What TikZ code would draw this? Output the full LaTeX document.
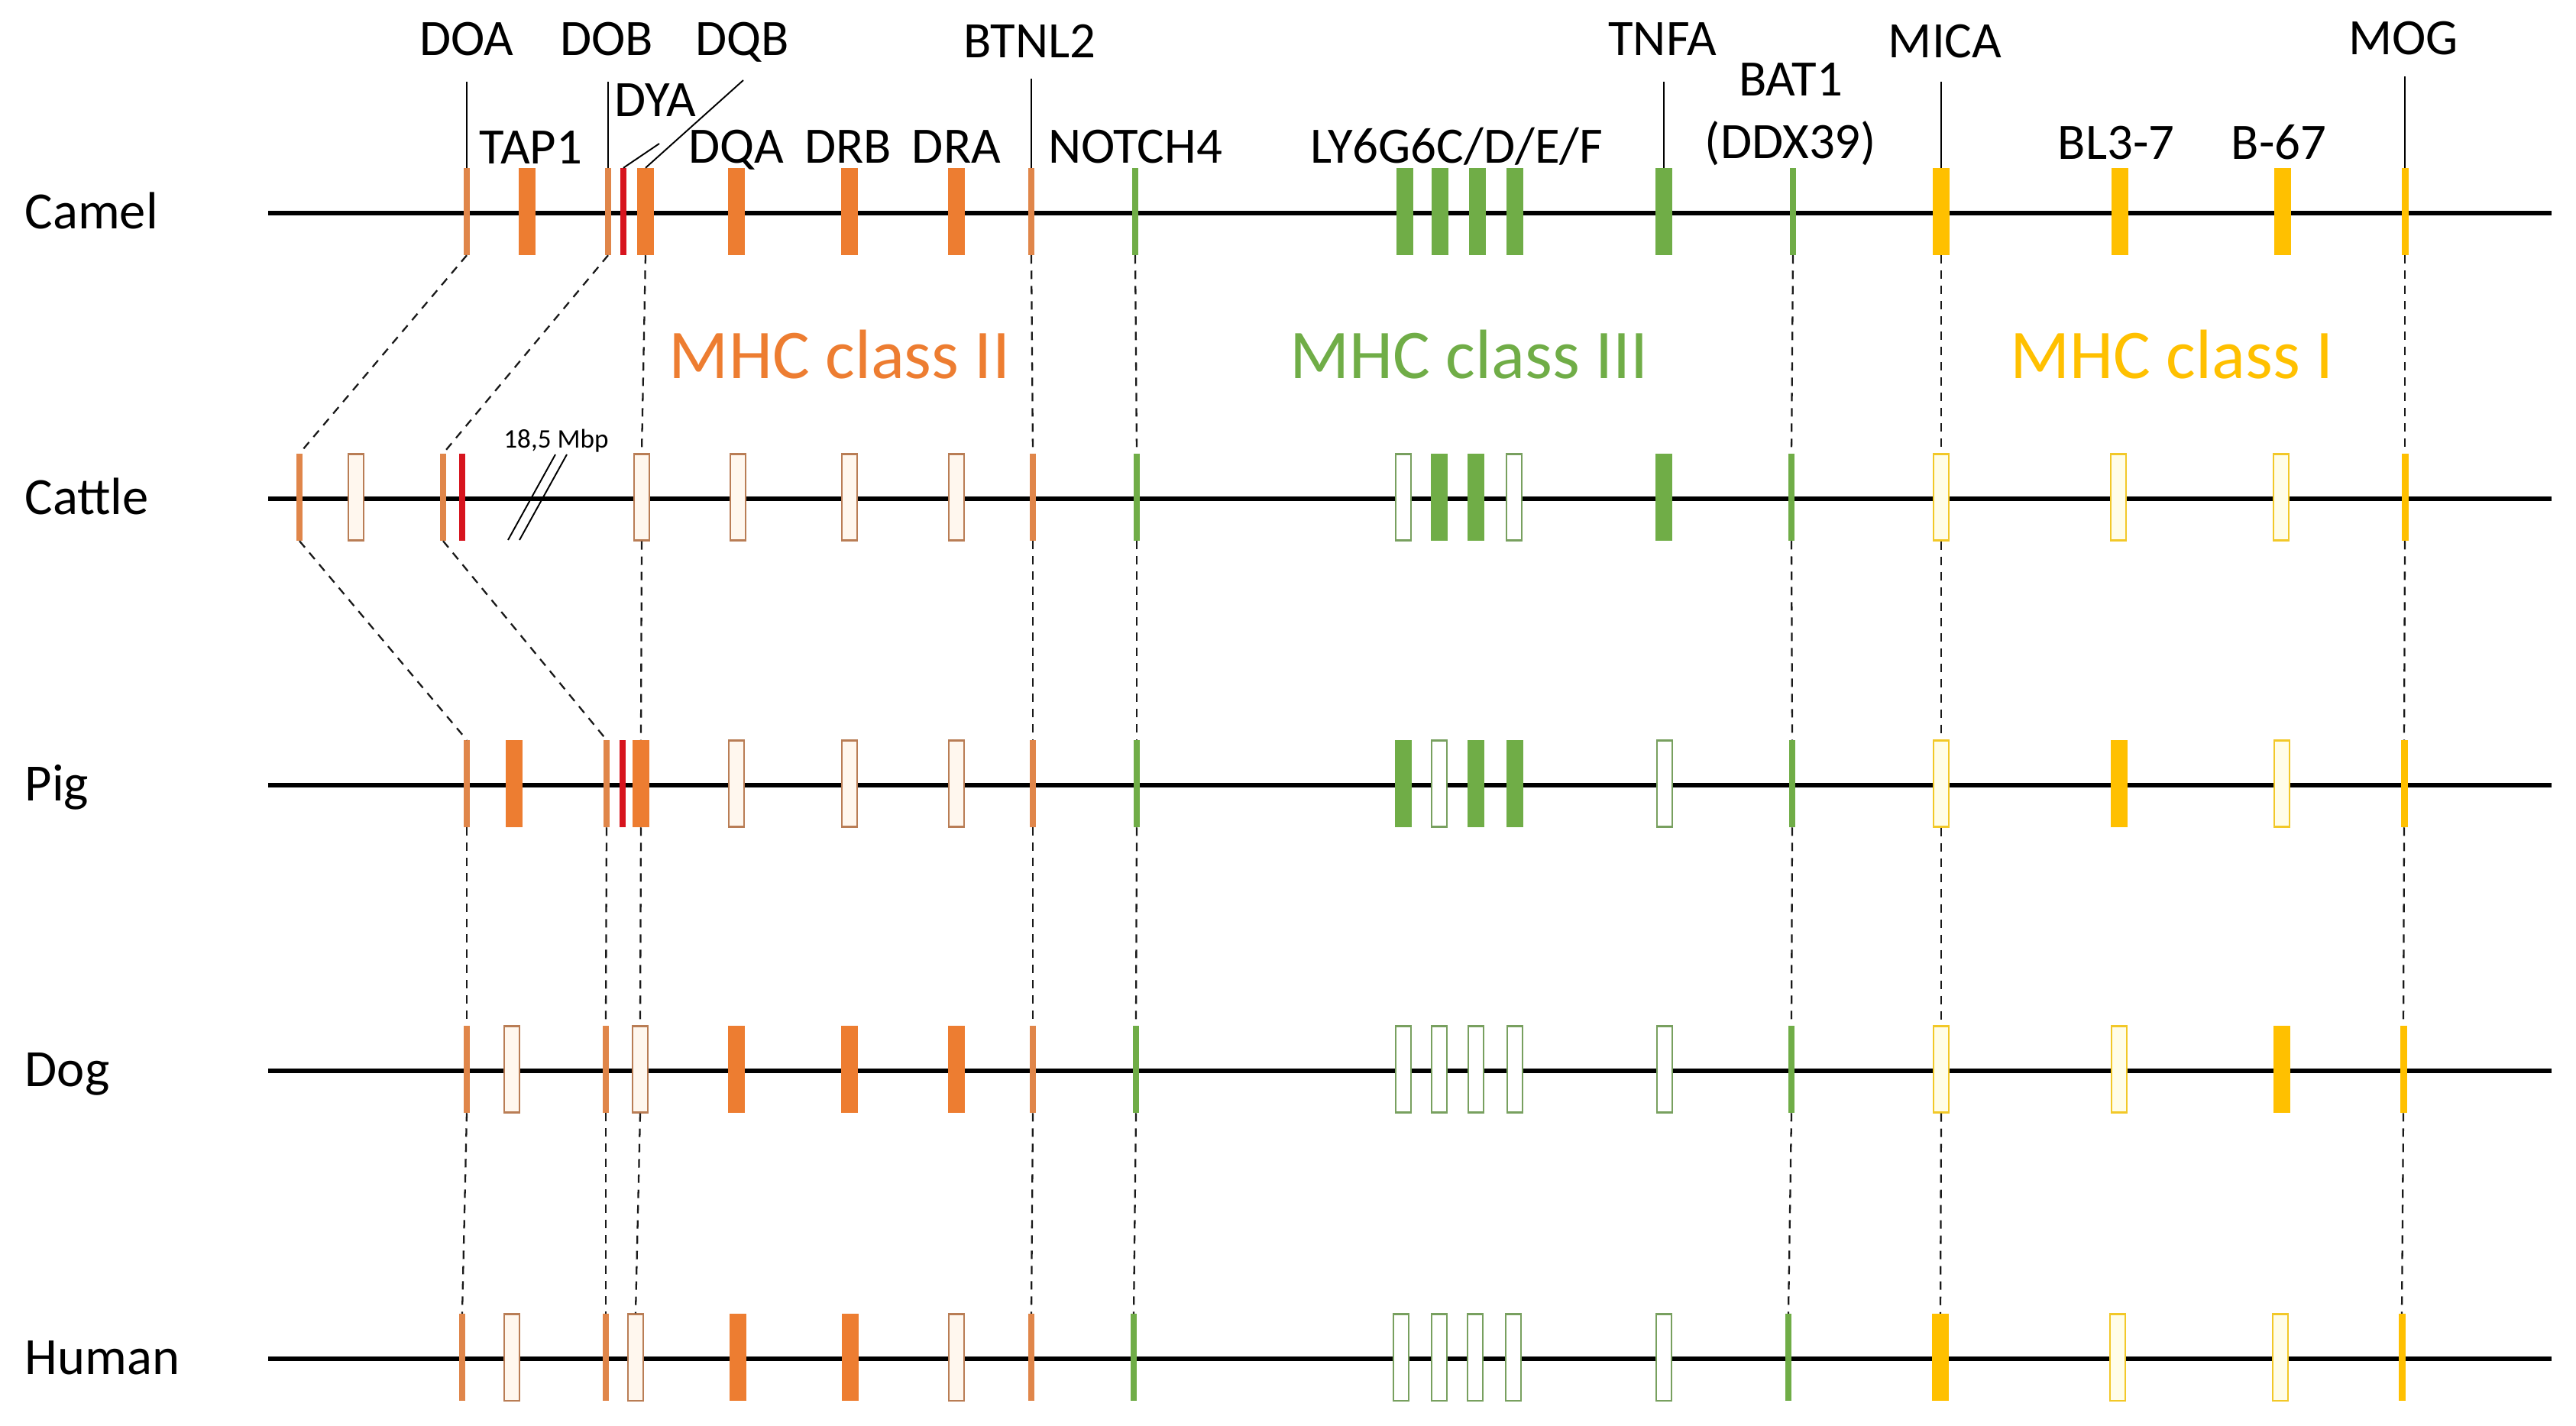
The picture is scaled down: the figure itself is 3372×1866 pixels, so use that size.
\documentclass[tikz,border=0pt]{standalone}
\usepackage{fontspec}
\setmainfont{Carlito}
\definecolor{org}{RGB}{237,125,49}
\definecolor{orgthin}{RGB}{224,134,74}
\definecolor{orgedge}{RGB}{185,125,85}
\definecolor{orglight}{RGB}{255,247,238}
\definecolor{dyared}{RGB}{215,20,30}
\definecolor{grn}{RGB}{112,173,71}
\definecolor{grnedge}{RGB}{120,160,95}
\definecolor{yel}{RGB}{255,192,0}
\definecolor{yeledge}{RGB}{242,200,40}
\definecolor{yellight}{RGB}{255,253,232}
\tikzset{
 gene/.style={rectangle, inner sep=0pt, minimum height=1.13cm, draw=none},
 thinO/.style={gene, fill=orgthin, minimum width=0.08cm},
 fillO/.style={gene, fill=org, minimum width=0.22cm},
 openO/.style={gene, draw=orgedge, fill=orglight, line width=0.6pt, minimum width=0.20cm},
 redg/.style={gene, fill=dyared, minimum width=0.075cm},
 thinG/.style={gene, fill=grn, minimum width=0.08cm},
 fillG/.style={gene, fill=grn, minimum width=0.22cm},
 openG/.style={gene, draw=grnedge, fill=white, line width=0.6pt, minimum width=0.20cm},
 thinY/.style={gene, fill=yel, minimum width=0.09cm},
 fillY/.style={gene, fill=yel, minimum width=0.22cm},
 openY/.style={gene, draw=yeledge, fill=yellight, line width=0.6pt, minimum width=0.20cm},
 chrom/.style={line width=1.7pt, black},
 link/.style={dashed, dash pattern=on 0.11cm off 0.09cm, line width=0.65pt, black!90},
 leader/.style={line width=0.55pt, black},
 lab/.style={font=\fontsize{19}{22}\selectfont, inner sep=0pt, anchor=base},
 species/.style={font=\fontsize{19.5}{22}\selectfont, inner sep=0pt, anchor=base west},
 mhc/.style={font=\fontsize{26}{30}\selectfont, inner sep=0pt, anchor=base},
 brk/.style={line width=0.55pt, black},
}
\newcommand\gn[4]{\node[#2] (#1) at (#3,#4) {};}
\begin{document}
\begin{tikzpicture}[x=0.01cm, y=-0.01cm]
\useasboundingbox (0,0) rectangle (3372,1866);
% chromosome lines
\foreach \r/\yy in {ca/279, ct/653, pg/1028, dg/1402, hu/1779}{
  \coordinate (\r-s) at (351,\yy);
  \coordinate (\r-e) at (3340,\yy);
  \draw[chrom] (\r-s) -- (\r-e);
}
% species labels
\node[species] (tCamel) at (32,299) {Camel};
\node[species] (tCattle) at (32,673) {Cattle};
\node[species] (tPig) at (32,1048) {Pig};
\node[species] (tDog) at (32,1422) {Dog};
\node[species] (tHuman) at (32,1799) {Human};
% MHC class labels
\node[mhc, text=org] (mII) at (1099,495) {MHC class II};
\node[mhc, text=grn] (mIII) at (1923,495) {MHC class III};
\node[mhc, text=yel] (mI) at (2843,495) {MHC class I};
% top labels
\node[lab] (lDOA) at (611,72) {DOA};
\node[lab] (lDOB) at (794,72) {DOB};
\node[lab] (lDQB) at (972,72) {DQB};
\node[lab] (lBTNL2) at (1348,75) {BTNL2};
\node[lab] (lTNFA) at (2176,72) {TNFA};
\node[lab] (lMICA) at (2546,75) {MICA};
\node[lab] (lMOG) at (3146,71) {MOG};
\node[lab] (lDYA) at (858,152) {DYA};
\node[lab] (lBAT1) at (2344,125) {BAT1};
\node[lab] (lDDX) at (2344,207) {(DDX39)};
\node[lab] (lTAP1) at (695,214) {TAP1};
\node[lab] (lDQA) at (964,213) {DQA};
\node[lab] (lDRB) at (1110,213) {DRB};
\node[lab] (lDRA) at (1252,213) {DRA};
\node[lab] (lNOTCH4) at (1486,213) {NOTCH4};
\node[lab] (lLY) at (1907,213) {LY6G6C/D/E/F};
\node[lab] (lBL) at (2770,208) {BL3-7};
\node[lab] (lB67) at (2983,208) {B-67};
% Camel
\gn{ca-DOA}{thinO}{611}{277}
\gn{ca-TAP1}{fillO}{690}{277}
\gn{ca-DOB}{thinO}{796}{277}
\gn{ca-DYA}{redg}{816}{277}
\gn{ca-DQB}{fillO}{845}{277}
\gn{ca-DQA}{fillO}{964}{277}
\gn{ca-DRB}{fillO}{1112}{277}
\gn{ca-DRA}{fillO}{1252}{277}
\gn{ca-BTNL2}{thinO}{1350}{277}
\gn{ca-NOTCH4}{thinG}{1486}{277}
\gn{ca-LYa}{fillG}{1839}{277}
\gn{ca-LYb}{fillG}{1885}{277}
\gn{ca-LYc}{fillG}{1934}{277}
\gn{ca-LYd}{fillG}{1983}{277}
\gn{ca-TNFA}{fillG}{2178}{277}
\gn{ca-BAT1}{thinG}{2347}{277}
\gn{ca-MICA}{fillY}{2541}{277}
\gn{ca-BL37}{fillY}{2775}{277}
\gn{ca-B67}{fillY}{2988}{277}
\gn{ca-MOG}{thinY}{3148}{277}
% Cattle
\gn{ct-DOA}{thinO}{392}{651}
\gn{ct-TAP1}{openO}{466}{651}
\gn{ct-DOB}{thinO}{580}{651}
\gn{ct-DYA}{redg}{605}{651}
\gn{ct-DQB}{openO}{840}{651}
\gn{ct-DQA}{openO}{966}{651}
\gn{ct-DRB}{openO}{1112}{651}
\gn{ct-DRA}{openO}{1252}{651}
\gn{ct-BTNL2}{thinO}{1352}{651}
\gn{ct-NOTCH4}{thinG}{1488}{651}
\gn{ct-LYa}{openG}{1837}{651}
\gn{ct-LYb}{fillG}{1884}{651}
\gn{ct-LYc}{fillG}{1932}{651}
\gn{ct-LYd}{openG}{1982}{651}
\gn{ct-TNFA}{fillG}{2178}{651}
\gn{ct-BAT1}{thinG}{2345}{651}
\gn{ct-MICA}{openY}{2541}{651}
\gn{ct-BL37}{openY}{2773}{651}
\gn{ct-B67}{openY}{2986}{651}
\gn{ct-MOG}{thinY}{3148}{651}
% break mark
\draw[brk] (665,707) -- (727,595);
\draw[brk] (680,707) -- (742,595);
\node[inner sep=0pt, anchor=base, font=\fontsize{10}{12}\selectfont] (mbp) at (728,586) {18,5 Mbp};
% Pig
\gn{pg-DOA}{thinO}{611}{1026}
\gn{pg-TAP1}{fillO}{673}{1026}
\gn{pg-DOB}{thinO}{794}{1026}
\gn{pg-DYA}{redg}{815}{1026}
\gn{pg-DQB}{fillO}{839}{1026}
\gn{pg-DQA}{openO}{964}{1026}
\gn{pg-DRB}{openO}{1112}{1026}
\gn{pg-DRA}{openO}{1252}{1026}
\gn{pg-BTNL2}{thinO}{1352}{1026}
\gn{pg-NOTCH4}{thinG}{1488}{1026}
\gn{pg-LYa}{fillG}{1837}{1026}
\gn{pg-LYb}{openG}{1884}{1026}
\gn{pg-LYc}{fillG}{1932}{1026}
\gn{pg-LYd}{fillG}{1983}{1026}
\gn{pg-TNFA}{openG}{2179}{1026}
\gn{pg-BAT1}{thinG}{2346}{1026}
\gn{pg-MICA}{openY}{2541}{1026}
\gn{pg-BL37}{fillY}{2774}{1026}
\gn{pg-B67}{openY}{2987}{1026}
\gn{pg-MOG}{thinY}{3147}{1026}
% Dog
\gn{dg-DOA}{thinO}{611}{1400}
\gn{dg-TAP1}{openO}{670}{1400}
\gn{dg-DOB}{thinO}{793}{1400}
\gn{dg-DQB}{openO}{838}{1400}
\gn{dg-DQA}{fillO}{964}{1400}
\gn{dg-DRB}{fillO}{1112}{1400}
\gn{dg-DRA}{fillO}{1252}{1400}
\gn{dg-BTNL2}{thinO}{1352}{1400}
\gn{dg-NOTCH4}{thinG}{1487}{1400}
\gn{dg-LYa}{openG}{1837}{1400}
\gn{dg-LYb}{openG}{1884}{1400}
\gn{dg-LYc}{openG}{1932}{1400}
\gn{dg-LYd}{openG}{1983}{1400}
\gn{dg-TNFA}{openG}{2179}{1400}
\gn{dg-BAT1}{thinG}{2345}{1400}
\gn{dg-MICA}{openY}{2541}{1400}
\gn{dg-BL37}{openY}{2774}{1400}
\gn{dg-B67}{fillY}{2987}{1400}
\gn{dg-MOG}{thinY}{3146}{1400}
% Human
\gn{hu-DOA}{thinO}{605}{1777}
\gn{hu-TAP1}{openO}{670}{1777}
\gn{hu-DOB}{thinO}{793}{1777}
\gn{hu-DQB}{openO}{832}{1777}
\gn{hu-DQA}{fillO}{966}{1777}
\gn{hu-DRB}{fillO}{1113}{1777}
\gn{hu-DRA}{openO}{1252}{1777}
\gn{hu-BTNL2}{thinO}{1350}{1777}
\gn{hu-NOTCH4}{thinG}{1484}{1777}
\gn{hu-LYa}{openG}{1834}{1777}
\gn{hu-LYb}{openG}{1884}{1777}
\gn{hu-LYc}{openG}{1931}{1777}
\gn{hu-LYd}{openG}{1981}{1777}
\gn{hu-TNFA}{openG}{2178}{1777}
\gn{hu-BAT1}{thinG}{2341}{1777}
\gn{hu-MICA}{fillY}{2540}{1777}
\gn{hu-BL37}{openY}{2772}{1777}
\gn{hu-B67}{openY}{2985}{1777}
\gn{hu-MOG}{thinY}{3144}{1777}
% leader lines
\coordinate (cDOA) at (611,107);
\coordinate (cDOB) at (796,107);
\coordinate (cDQB) at (973,105);
\coordinate (cDYA) at (863,188);
\coordinate (cBTNL2) at (1350,103);
\coordinate (cTNFA) at (2178,107);
\coordinate (cMICA) at (2541,107);
\coordinate (cMOG) at (3148,100);
\draw[leader] (cDOA) -- (ca-DOA.north);
\draw[leader] (cDOB) -- (ca-DOB.north);
\draw[leader] (cDQB) -- (ca-DQB.north);
\draw[leader] (cDYA) -- (ca-DYA.north);
\draw[leader] (cBTNL2) -- (ca-BTNL2.north);
\draw[leader] (cTNFA) -- (ca-TNFA.north);
\draw[leader] (cMICA) -- (ca-MICA.north);
\draw[leader] (cMOG) -- (ca-MOG.north);
% dashed links
\foreach \g in {DOA,DOB,DQB,BTNL2,NOTCH4,BAT1,MICA,MOG}{
  \foreach \a/\b in {ca/ct,ct/pg,pg/dg,dg/hu}{
    \draw[link] (\a-\g.south) -- (\b-\g.north);
  }
}
\end{tikzpicture}
\end{document}
